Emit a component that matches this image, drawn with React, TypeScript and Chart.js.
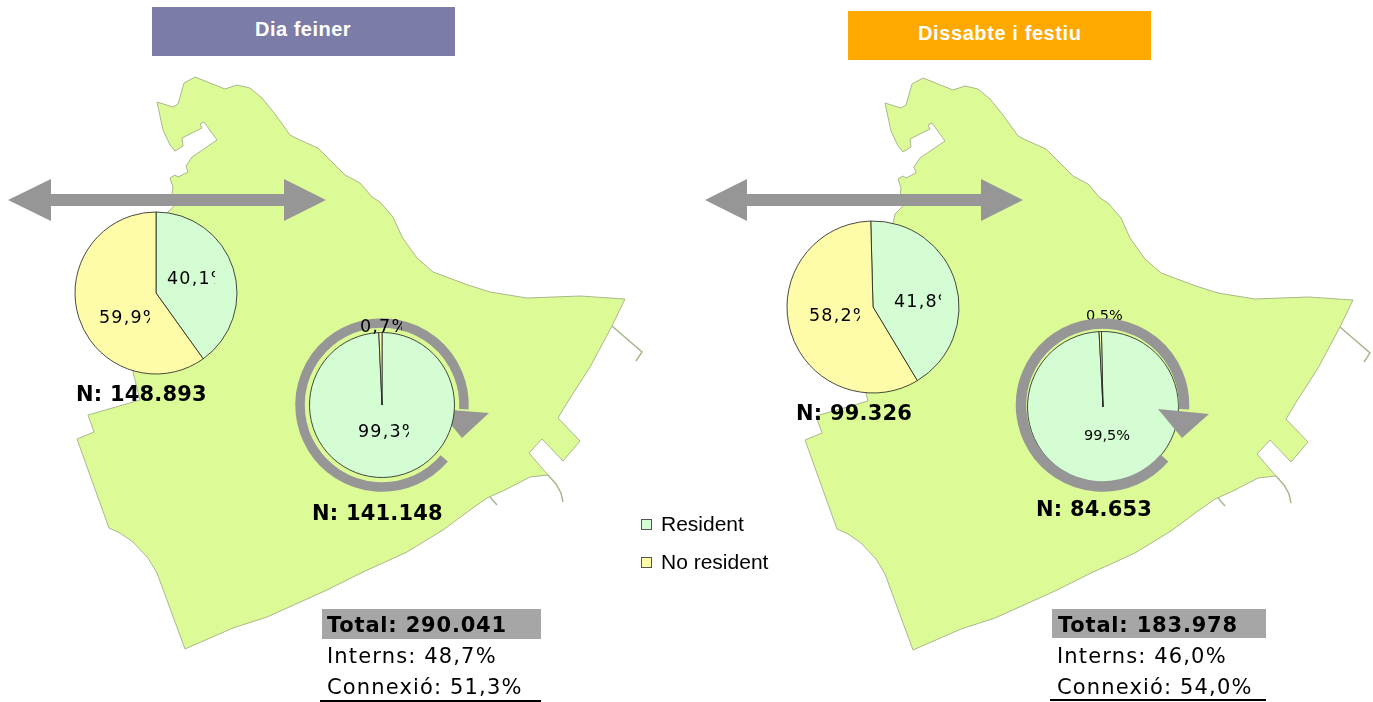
import React, { useEffect, useRef } from "react";
import { Chart, registerables } from "chart.js";

Chart.register(...registerables);

const categories = ["Resident", "No resident"];

const weekdayUpperValues = [40.1, 59.9];
const weekdayLowerValues = [99.3, 0.7];
const holidayUpperValues = [41.8, 58.2];
const holidayLowerValues = [99.5, 0.5];

const weekdayTotals = ["N: 148.893", "N: 141.148", "Total: 290.041", "Interns: 48,7%", "Connexió: 51,3%"];
const holidayTotals = ["N: 99.326", "N: 84.653", "Total: 183.978", "Interns: 46,0%", "Connexió: 54,0%"];

const mapOutline: [number, number][] = [
  [157, 102], [173, 107], [178, 104], [184, 83], [195, 77], [225, 89], [237, 85], [250, 88], [262, 98],
  [275, 114], [290, 135], [300, 140], [318, 148], [330, 160], [345, 175], [360, 183], [372, 197], [380, 202],
  [393, 217], [402, 237], [417, 258], [433, 272], [468, 285], [490, 292], [527, 298], [580, 296], [625, 299],
  [612, 326], [590, 367], [567, 403], [558, 418], [580, 441], [563, 461], [542, 439], [529, 453], [548, 475],
  [530, 477], [505, 490], [487, 498], [470, 510], [443, 530], [407, 552], [383, 563], [363, 572], [327, 590],
  [267, 617], [233, 628], [185, 649], [157, 573], [148, 558], [133, 542], [120, 533], [109, 528], [77, 439],
  [94, 432], [88, 415], [140, 400], [133, 372], [167, 213], [175, 205], [172, 195], [173, 187], [170, 178],
  [175, 175], [178, 177], [188, 172], [186, 166], [192, 157], [217, 140], [204, 122], [200, 124], [202, 128],
  [182, 138], [183, 146], [175, 151], [170, 145], [163, 130], [157, 102],
];
const pierNorth: [number, number][] = [[612, 326], [642, 352], [636, 361]];
const pierSouth: [number, number][] = [[548, 475], [556, 484], [561, 493], [563, 502]];
const pierSmall: [number, number][] = [[490, 497], [497, 505]];

const W = 1373;
const H = 702;
const RESIDENT = "#D4FDD4";
const NON_RESIDENT = "#FFFCA9";
const LAND = "#DCFB96";
const COAST = "#A9B78C";
const GREY = "#969696";
const SANS = "'DejaVu Sans'";
const ARIAL = "'Liberation Sans'";

function MapLayer() {
  const ref = useRef<HTMLCanvasElement>(null);
  useEffect(() => {
    const shift = (pts: [number, number][], dx: number, dy: number) => pts.map(([x, y]) => ({ x: x + dx, y: y + dy }));
    const land = (pts: [number, number][], dx: number, dy: number) => ({
      data: shift(pts, dx, dy), showLine: true, fill: "shape" as const, backgroundColor: LAND,
      borderColor: COAST, borderWidth: 1, pointRadius: 0, tension: 0,
    });
    const pier = (pts: [number, number][], dx: number, dy: number) => ({
      data: shift(pts, dx, dy), showLine: true, fill: false, borderColor: COAST, borderWidth: 1.5, pointRadius: 0, tension: 0,
    });
    const chart = new Chart(ref.current!, {
      type: "scatter",
      data: {
        datasets: [
          land(mapOutline, 0, 0), pier(pierNorth, 0, 0), pier(pierSouth, 0, 0), pier(pierSmall, 0, 0),
          land(mapOutline, 728, 1), pier(pierNorth, 728, 1), pier(pierSouth, 728, 1), pier(pierSmall, 728, 1),
        ],
      },
      options: {
        animation: false, responsive: false,
        layout: { padding: 0 },
        plugins: { legend: { display: false }, tooltip: { enabled: false } },
        scales: {
          x: { type: "linear", min: 0, max: W, display: false },
          y: { type: "linear", min: 0, max: H, reverse: true, display: false },
        },
      },
    });
    return () => chart.destroy();
  }, []);
  return <canvas ref={ref} width={W} height={H} style={{ position: "absolute", left: 0, top: 0, width: W, height: H }} />;
}

function Pie({ cx, cy, r, values, rotation }: { cx: number; cy: number; r: number; values: number[]; rotation: number }) {
  const ref = useRef<HTMLCanvasElement>(null);
  const size = 2 * (Math.ceil(r) + 3);
  useEffect(() => {
    const chart = new Chart(ref.current!, {
      type: "pie",
      data: {
        labels: categories,
        datasets: [{ data: values, backgroundColor: [RESIDENT, NON_RESIDENT], borderColor: "#1c1c1c", borderWidth: 0.8 }],
      },
      options: {
        animation: false, responsive: false, rotation, radius: r,
        layout: { padding: 0 },
        plugins: { legend: { display: false }, tooltip: { enabled: false } },
      },
    });
    return () => chart.destroy();
  }, []);
  return <canvas ref={ref} width={size} height={size} style={{ position: "absolute", left: cx - size / 2, top: cy - size / 2, width: size, height: size }} />;
}

function Text({ x, base, size, text, bold, font = SANS, clip, spacing = 0, color = "#000" }:
  { x: number; base: number; size: number; text: string; bold?: boolean; font?: string; clip?: number; spacing?: number; color?: string }) {
  return (
    <div style={{
      position: "absolute", left: x, top: base - 0.846 * size, width: clip ?? 320, height: size * 1.25, overflow: "hidden",
      fontFamily: font, fontSize: size, lineHeight: `${size}px`, fontWeight: bold ? 700 : 400,
      letterSpacing: spacing, color, whiteSpace: "nowrap",
    }}>{text}</div>
  );
}

function Ring({ cx, cy, r, width, head }: { cx: number; cy: number; r: number; width: number; head: [number, number][] }) {
  const a0 = (40.6 * Math.PI) / 180;
  const a1 = (3 * Math.PI) / 180;
  const p = (a: number) => `${cx + r * Math.cos(a)} ${cy + r * Math.sin(a)}`;
  return (
    <svg width={W} height={H} style={{ position: "absolute", left: 0, top: 0 }}>
      <path d={`M ${p(a0)} A ${r} ${r} 0 1 1 ${p(a1)}`} fill="none" stroke={GREY} strokeWidth={width} />
      <polygon points={head.map((q) => q.join(",")).join(" ")} fill={GREY} />
    </svg>
  );
}

function DoubleArrow({ x0, x1, x2, x3 }: { x0: number; x1: number; x2: number; x3: number }) {
  const pts = [[x0, 200], [x1, 179], [x1, 194], [x2, 194], [x2, 179], [x3, 200], [x2, 221], [x2, 206], [x1, 206], [x1, 221]];
  return (
    <svg width={W} height={H} style={{ position: "absolute", left: 0, top: 0 }}>
      <polygon points={pts.map((q) => q.join(",")).join(" ")} fill={GREY} />
    </svg>
  );
}

function Box({ x, y, w, h, color }: { x: number; y: number; w: number; h: number; color: string }) {
  return <div style={{ position: "absolute", left: x, top: y, width: w, height: h, background: color }} />;
}

function Swatch({ y, color }: { y: number; color: string }) {
  return <div style={{ position: "absolute", left: 641, top: y, width: 9, height: 9, background: color, border: "1px solid #555" }} />;
}

export default function App() {
  useEffect(() => {
    document.body.style.margin = "0";
    document.body.style.overflow = "hidden";
  }, []);
  const pct = (v: number) => `${v.toFixed(1).replace(".", ",")}%`;
  return (
    <div style={{ position: "absolute", left: 0, top: 0, width: W, height: H, overflow: "hidden", background: "#fff" }}>
      <MapLayer />
      <Box x={152} y={7} w={303} h={49} color="#7C7CA8" />
      <Box x={848} y={11} w={303} h={49} color="#FFA800" />
      <Text x={255} base={36} size={20} bold font={ARIAL} text="Dia feiner" color="#fff" spacing={0.5} />
      <Text x={918} base={40} size={20} bold font={ARIAL} text="Dissabte i festiu" color="#fff" spacing={0.6} />

      <DoubleArrow x0={8} x1={51} x2={284} x3={326} />
      <DoubleArrow x0={705} x1={747} x2={981} x3={1023} />

      <Ring cx={382} cy={405} r={82} width={9.5} head={[[438, 409], [489, 413], [462, 438]]} />
      <Pie cx={156} cy={293} r={81} values={weekdayUpperValues} rotation={0} />
      <Pie cx={382} cy={405} r={72.5} values={weekdayLowerValues} rotation={0} />
      <Pie cx={873} cy={307} r={86} values={holidayUpperValues} rotation={-1.5} />
      <Pie cx={1103} cy={407} r={75.5} values={holidayLowerValues} rotation={-1.2} />

      <Text x={167} base={285} size={17.5} spacing={1.2} clip={48} text={pct(weekdayUpperValues[0])} />
      <Text x={99} base={324} size={17.5} spacing={1.2} clip={51} text={pct(weekdayUpperValues[1])} />
      <Text x={358} base={438} size={17.5} spacing={1.2} clip={51} text={pct(weekdayLowerValues[0])} />
      <Text x={360} base={333} size={17.5} spacing={1.2} clip={42} text={pct(weekdayLowerValues[1])} />
      <Text x={894} base={308} size={17.5} spacing={1.2} clip={47} text={pct(holidayUpperValues[0])} />
      <Text x={809} base={322} size={17.5} spacing={1.2} clip={51} text={pct(holidayUpperValues[1])} />
      <Text x={1084} base={440} size={14.5} text={pct(holidayLowerValues[0])} />
      <Text x={1086} base={320} size={14.5} text={pct(holidayLowerValues[1])} />

      <Ring cx={1102.5} cy={405} r={81.5} width={10.5} head={[[1158, 409], [1209, 414], [1182, 438]]} />

      <Text x={76} base={402} size={21} spacing={0.2} bold text={weekdayTotals[0]} />
      <Text x={312} base={521} size={21} spacing={0.2} bold text={weekdayTotals[1]} />
      <Text x={796} base={421} size={21} spacing={0.2} bold text={holidayTotals[0]} />
      <Text x={1036} base={517} size={21} spacing={0.2} bold text={holidayTotals[1]} />

      <Swatch y={519} color={RESIDENT} />
      <Swatch y={557} color={NON_RESIDENT} />
      <Text x={661} base={531} size={21} font={ARIAL} text={categories[0]} />
      <Text x={661} base={569} size={21} font={ARIAL} text={categories[1]} />

      <Box x={322} y={609} w={219} h={30} color="#A6A6A6" />
      <Text x={327} base={633} size={21} bold spacing={0.8} text={weekdayTotals[2]} />
      <Text x={327} base={664} size={21} spacing={1.15} text={weekdayTotals[3]} />
      <Text x={327} base={695} size={21} spacing={1.15} text={weekdayTotals[4]} />
      <Box x={320} y={700} w={221} h={2} color="#000" />

      <Box x={1052} y={609} w={214} h={29} color="#A6A6A6" />
      <Text x={1058} base={633} size={21} bold spacing={0.8} text={holidayTotals[2]} />
      <Text x={1057} base={664} size={21} spacing={1.15} text={holidayTotals[3]} />
      <Text x={1057} base={695} size={21} spacing={1.15} text={holidayTotals[4]} />
      <Box x={1050} y={699} w={216} h={2} color="#000" />
    </div>
  );
}
